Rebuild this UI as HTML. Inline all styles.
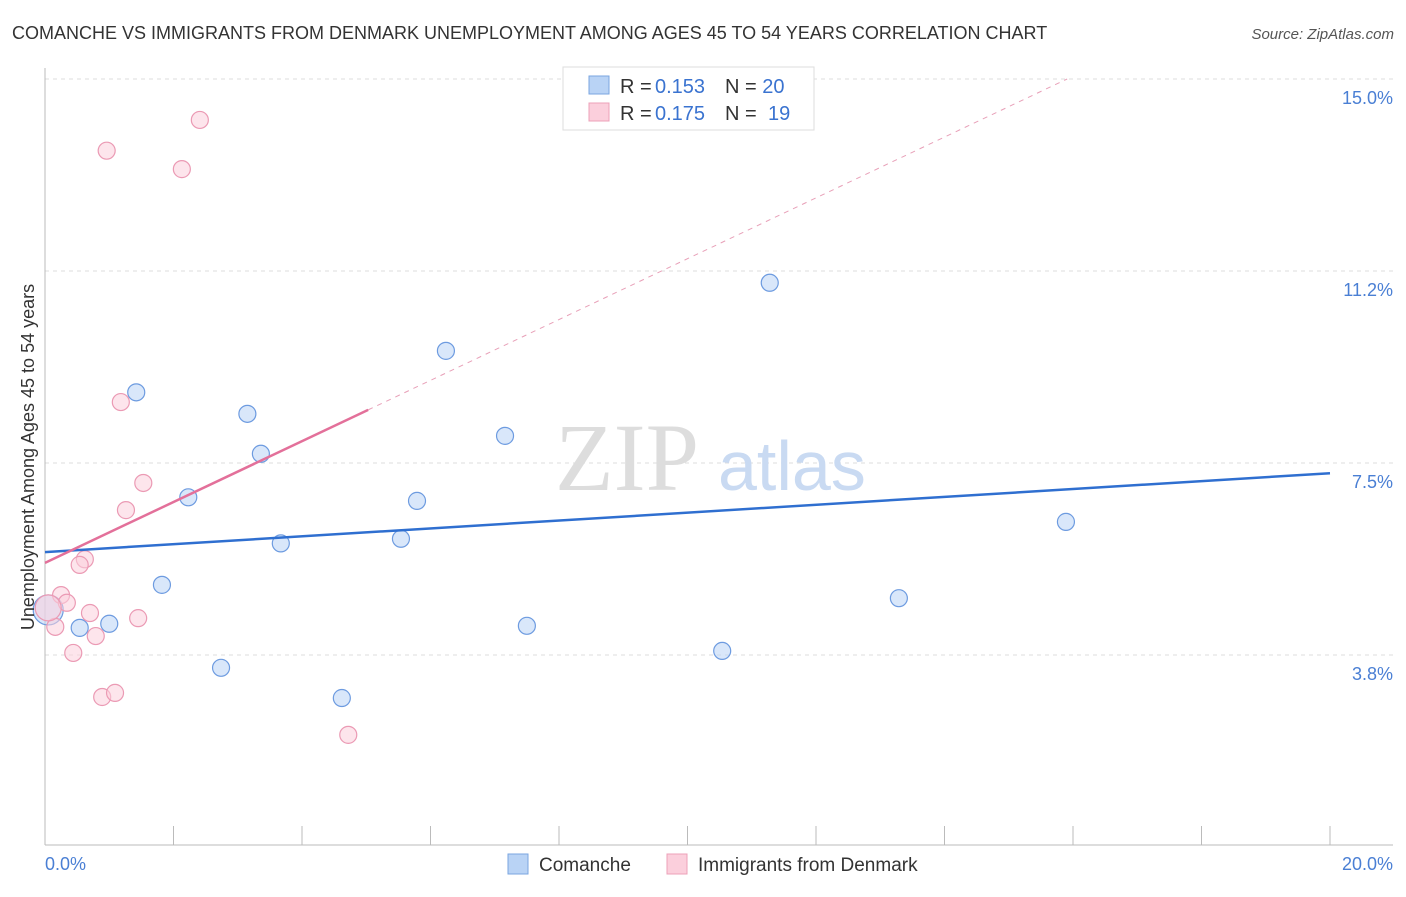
<!DOCTYPE html>
<html><head><meta charset="utf-8"><style>
body{margin:0;background:#fff;font-family:"Liberation Sans",sans-serif;}
</style></head><body>
<svg id="chart" width="1406" height="892" xmlns="http://www.w3.org/2000/svg" font-family="Liberation Sans, sans-serif">
<text x="12" y="39" font-size="18" fill="#333">COMANCHE VS IMMIGRANTS FROM DENMARK UNEMPLOYMENT AMONG AGES 45 TO 54 YEARS CORRELATION CHART</text>
<text x="1394" y="39" font-size="15" fill="#555" text-anchor="end" font-style="italic">Source: ZipAtlas.com</text>
<g id="grid"></g>
<text x="555" y="490" font-size="96" fill="#ddd" font-family="Liberation Serif, serif">ZIP</text>
<text x="718" y="490" font-size="70" fill="#c9daf2">atlas</text>
<g id="marks"></g>
<text transform="translate(34,457) rotate(-90)" font-size="18" fill="#333" text-anchor="middle">Unemployment Among Ages 45 to 54 years</text>
<text x="45" y="870" font-size="18" fill="#4a7fd4">0.0%</text>
<text x="1393" y="870" font-size="18" fill="#4a7fd4" text-anchor="end">20.0%</text>
<g>
<rect x="563" y="67" width="251" height="63" fill="#fff" stroke="#ddd"/>
<rect x="589" y="76" width="20" height="18" fill="#b9d3f5" stroke="#7aa6e0"/>
<rect x="589" y="103" width="20" height="18" fill="#fbcfdc" stroke="#eda0b8"/>
<text x="620" y="93" font-size="20" fill="#333">R = <tspan fill="#3a73d0" x="655">0.153</tspan></text>
<text x="725" y="93" font-size="20" fill="#333">N = <tspan fill="#3a73d0">20</tspan></text>
<text x="620" y="120" font-size="20" fill="#333">R = <tspan fill="#3a73d0" x="655">0.175</tspan></text>
<text x="725" y="120" font-size="20" fill="#333">N = <tspan fill="#3a73d0" x="768">19</tspan></text>
</g>
<g>
<rect x="508" y="854" width="20" height="20" fill="#b9d3f5" stroke="#7aa6e0"/>
<text x="539" y="871" font-size="19" fill="#333">Comanche</text>
<rect x="667" y="854" width="20" height="20" fill="#fbcfdc" stroke="#eda0b8"/>
<text x="698" y="871" font-size="19" fill="#333">Immigrants from Denmark</text>
</g>
</svg>
<script>
const yTicks=[3.75,7.5,11.25,15.0];
const yTickLabels=["3.8%","7.5%","11.2%","15.0%"];
const blueX=[1.42,3.15,3.36,2.23,3.67,1.82,1.0,0.54,2.74,4.62,5.54,5.79,6.24,7.16,7.5,10.54,11.28,13.29,15.89,0.05];
const blueY=[8.88,8.46,7.68,6.83,5.93,5.12,4.36,4.28,3.5,2.91,6.02,6.76,9.69,8.03,4.32,3.83,11.02,4.86,6.35,4.63];
const pinkX=[2.41,0.96,2.13,1.18,1.53,1.26,0.62,0.54,0.25,0.34,0.7,1.45,0.16,0.79,0.44,0.89,1.09,4.72,0.05];
const pinkY=[14.2,13.6,13.24,8.69,7.11,6.58,5.62,5.51,4.92,4.77,4.57,4.47,4.3,4.12,3.79,2.93,3.01,2.19,4.67];
const blueTrend=[5.76,7.3];
const pinkTrend=[5.55,0.594];
const pinkSolidEnd=5.03;
const X=v=>45+v/20*1285, Y=v=>847-v*51.2;
const NS="http://www.w3.org/2000/svg";
function mk(tag,at,parent){const e=document.createElementNS(NS,tag);for(const k in at)e.setAttribute(k,at[k]);document.getElementById(parent).appendChild(e);return e;}
yTicks.forEach((t,i)=>{
 const l=mk('line',{x1:45,x2:1393,y1:Y(t),y2:Y(t),stroke:'#ddd','stroke-dasharray':'4,4'},'grid');
 
 
 const tx=mk('text',{x:1393,y:Y(t)+25,'font-size':18,fill:'#4a7fd4','text-anchor':'end'},'grid');
 tx.textContent=yTickLabels[i];
 
 
});
const topLine=mk('line',{x1:45,x2:1393,y1:79,y2:79,stroke:'#ddd','stroke-dasharray':'4,4'},'grid');


const ax=mk('line',{x1:45,x2:1393,y1:845,y2:845,stroke:'#bbb'},'grid');


const ay=mk('line',{x1:45,x2:45,y1:68,y2:845,stroke:'#bbb'},'grid');


for(let i=1;i<=10;i++){const t=mk('line',{x1:X(i*2),x2:X(i*2),y1:826,y2:845,stroke:'#bbb'},'grid');
 
 }
function dot(x,y,fill,stroke,name,r){const c=mk('circle',{cx:X(x),cy:Y(y),r:r,fill:fill,stroke:stroke,'stroke-width':1.2,'fill-opacity':0.55},'marks');
 
 }
blueX.forEach((x,i)=>dot(x,blueY[i],'#b9d3f5','#6d9be0','comanche-point',i==blueX.length-1?15:8.5));
pinkX.forEach((x,i)=>dot(x,pinkY[i],'#fbcfdc','#eb9ab4','denmark-point',i==pinkX.length-1?13:8.5));
const bl=mk('line',{x1:X(0),y1:Y(blueTrend[0]),x2:X(20),y2:Y(blueTrend[1]),stroke:'#2f6fd0','stroke-width':2.5},'marks');


const pl=mk('line',{x1:X(0),y1:Y(pinkTrend[0]),x2:X(pinkSolidEnd),y2:Y(pinkTrend[0]+pinkTrend[1]*pinkSolidEnd),stroke:'#e3709a','stroke-width':2.5},'marks');


const xe=(15-pinkTrend[0])/pinkTrend[1];
const pd=mk('line',{x1:X(pinkSolidEnd),y1:Y(pinkTrend[0]+pinkTrend[1]*pinkSolidEnd),x2:X(xe),y2:Y(15),stroke:'#e8a0b8','stroke-width':1,'stroke-dasharray':'5,5'},'marks');


</script>
</body></html>
